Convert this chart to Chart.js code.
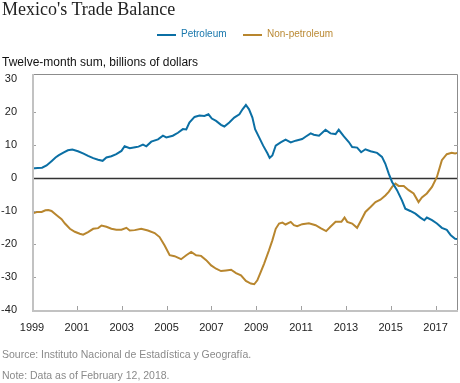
<!DOCTYPE html>
<html><head><meta charset="utf-8">
<script src="https://cdn.jsdelivr.net/npm/chart.js@4/dist/chart.umd.min.js"></script>
<style>
html,body{margin:0;padding:0;background:#fff}
body{width:460px;height:383px;overflow:hidden;position:relative;font-family:"Liberation Sans",Arial,sans-serif}
#wrap{position:absolute;left:0;top:0;width:460px;height:383px}
.t{position:absolute;white-space:nowrap;line-height:1}
#title{left:2px;top:0px;font-family:"Liberation Serif",serif;font-size:18px;color:#222}
#sub{left:2px;top:56px;font-size:12px;color:#111}
#src{left:2px;top:349px;font-size:10.5px;color:#8a8a8a}
#note{left:2px;top:370px;font-size:10.5px;color:#8a8a8a}
.lg{position:absolute;height:2px;width:19px;top:34px}
.lt{position:absolute;top:29px;font-size:10px;white-space:nowrap;line-height:1}
</style></head>
<body>
<div id="wrap"><canvas id="c" width="460" height="383"></canvas></div>
<div class="t" id="title">Mexico's Trade Balance</div>
<div class="lg" style="left:157px;background:#0b6fa4"></div>
<div class="lt" style="left:181px;color:#1a78ad">Petroleum</div>
<div class="lg" style="left:243px;background:#b8862e"></div>
<div class="lt" style="left:267px;color:#bb8a35">Non-petroleum</div>
<div class="t" id="sub">Twelve-month sum, billions of dollars</div>
<div class="t" id="src">Source: Instituto Nacional de Estadística y Geografía.</div>
<div class="t" id="note">Note: Data as of February 12, 2018.</div>
<script>
const petroleumYears = [1999.0,1999.25,1999.45,1999.65,1999.87,2000.05,2000.2,2000.4,2000.6,2000.8,2001.05,2001.3,2001.5,2001.73,2001.95,2002.15,2002.32,2002.54,2002.76,2002.99,2003.13,2003.36,2003.6,2003.75,2003.95,2004.1,2004.32,2004.62,2004.84,2004.99,2005.28,2005.51,2005.73,2005.88,2006.02,2006.25,2006.47,2006.69,2006.87,2007.02,2007.21,2007.43,2007.58,2007.8,2008.02,2008.25,2008.39,2008.54,2008.68,2008.83,2008.95,2009.13,2009.31,2009.5,2009.6,2009.72,2009.87,2010.09,2010.31,2010.54,2010.76,2011.05,2011.2,2011.43,2011.57,2011.8,2012.09,2012.31,2012.54,2012.68,2012.91,2013.13,2013.28,2013.5,2013.68,2013.87,2014.1,2014.39,2014.61,2014.76,2014.91,2015.06,2015.28,2015.5,2015.65,2015.87,2016.1,2016.32,2016.5,2016.61,2016.84,2017.06,2017.28,2017.5,2017.68,2017.87,2017.98];
const petroleumValues = [2.9,3.0,3.1,3.8,5.1,6.2,6.9,7.7,8.4,8.6,8.1,7.4,6.7,6.0,5.5,5.2,6.2,6.6,7.2,8.2,9.6,9.0,9.3,9.5,10.1,9.6,11.0,11.7,12.8,12.3,12.8,13.7,14.8,14.7,16.8,18.5,18.9,18.8,19.3,18.0,17.3,16.1,15.6,16.8,18.3,19.3,20.8,22.1,20.8,18.3,14.8,12.3,9.8,7.5,6.1,6.8,9.8,10.8,11.6,10.8,11.3,11.8,12.5,13.5,13.1,12.8,14.6,13.5,13.3,14.6,12.6,10.9,9.4,9.2,7.8,8.7,8.1,7.6,6.4,4.3,1.3,-1.2,-3.7,-6.8,-9.3,-10.0,-10.8,-12.0,-12.8,-12.0,-12.8,-13.8,-15.1,-15.7,-17.4,-18.4,-18.5];
const nonPetroleumYears = [1999.0,1999.21,1999.43,1999.6,1999.73,1999.87,2000.1,2000.32,2000.47,2000.69,2000.91,2001.13,2001.28,2001.5,2001.73,2001.95,2002.1,2002.32,2002.54,2002.76,2002.99,2003.21,2003.36,2003.58,2003.87,2004.17,2004.47,2004.69,2004.91,2005.14,2005.36,2005.65,2005.88,2006.1,2006.32,2006.54,2006.77,2006.99,2007.21,2007.43,2007.65,2007.88,2008.1,2008.32,2008.54,2008.76,2008.91,2009.05,2009.2,2009.35,2009.57,2009.72,2009.87,2010.02,2010.17,2010.31,2010.54,2010.68,2010.83,2011.05,2011.35,2011.65,2011.87,2012.12,2012.31,2012.54,2012.8,2012.94,2013.06,2013.28,2013.5,2013.68,2013.87,2014.1,2014.32,2014.54,2014.76,2014.91,2015.06,2015.21,2015.35,2015.58,2015.8,2016.02,2016.24,2016.39,2016.61,2016.84,2017.06,2017.28,2017.5,2017.72,2017.87,2017.98];
const nonPetroleumValues = [-10.8,-10.3,-10.3,-9.8,-9.7,-10.0,-11.3,-12.5,-13.8,-15.4,-16.3,-16.9,-17.2,-16.4,-15.4,-15.2,-14.4,-14.8,-15.4,-15.7,-15.7,-15.1,-15.9,-15.8,-15.4,-15.9,-16.7,-17.9,-20.4,-23.4,-23.7,-24.6,-23.4,-22.4,-23.4,-23.6,-24.9,-26.5,-27.5,-28.2,-28.0,-27.8,-28.8,-29.5,-31.2,-32.0,-32.2,-31.0,-28.5,-26.0,-21.9,-18.9,-15.4,-13.8,-13.5,-14.1,-13.3,-14.3,-14.6,-14.0,-13.7,-14.3,-15.2,-16.1,-14.8,-13.3,-13.3,-12.0,-13.3,-13.8,-15.1,-12.8,-10.3,-8.8,-7.3,-6.6,-5.3,-4.2,-2.7,-1.7,-2.4,-2.4,-3.7,-4.7,-7.3,-5.9,-4.7,-2.7,0.3,5.4,7.2,7.6,7.4,7.6];
const xTickLabels = [1999,2001,2003,2005,2007,2009,2011,2013,2015,2017];
const yTickValues = [-40,-30,-20,-10,0,10,20,30];
const seriesNames = ['Petroleum','Non-petroleum'];

function pts(xs, ys){ return xs.map((x,i)=>({x:x,y:ys[i]})); }

const framePlugin = {
  id:'frame',
  beforeDatasetsDraw(chart){
    const {ctx, chartArea:a, scales:{x,y}} = chart;
    ctx.save();
    // zero line
    const y0 = Math.round(y.getPixelForValue(0))+0.5;
    ctx.strokeStyle='#333'; ctx.lineWidth=1.3;
    ctx.beginPath(); ctx.moveTo(a.left,y0); ctx.lineTo(a.right,y0); ctx.stroke();
    ctx.restore();
  },
  afterDatasetsDraw(chart){
    const {ctx, chartArea:a, scales:{x,y}} = chart;
    ctx.save();
    // top & right border
    ctx.strokeStyle='#8c8c8c'; ctx.lineWidth=1;
    ctx.beginPath(); ctx.moveTo(a.left, a.top+0.5); ctx.lineTo(a.right-0.5, a.top+0.5); ctx.lineTo(a.right-0.5, a.bottom); ctx.stroke();
    // inner y ticks
    ctx.strokeStyle='#a0a0a0';
    yTickValues.forEach(v=>{
      if(v===0||v===-40||v===30) return;
      const py = Math.round(y.getPixelForValue(v))+0.5;
      ctx.beginPath(); ctx.moveTo(a.left,py); ctx.lineTo(a.left+4,py); ctx.stroke();
      ctx.beginPath(); ctx.moveTo(a.right-4,py); ctx.lineTo(a.right,py); ctx.stroke();
    });
    // inner x ticks
    xTickLabels.forEach(v=>{
      if(v===1999) return;
      const px = Math.round(x.getPixelForValue(v))+0.5;
      ctx.beginPath(); ctx.moveTo(px,a.bottom); ctx.lineTo(px,a.bottom-4); ctx.stroke();
    });
    // left & bottom axis
    ctx.strokeStyle='#c2c2c2'; ctx.lineWidth=2;
    ctx.beginPath(); ctx.moveTo(a.left+1, a.top); ctx.lineTo(a.left+1, a.bottom+1); ctx.lineTo(a.right, a.bottom+1); ctx.stroke();
    ctx.restore();
  }
};

new Chart(document.getElementById('c'), {
  type:'line',
  data:{
    datasets:[
      {label:seriesNames[0], data:pts(petroleumYears,petroleumValues), borderColor:'#0b6fa4', borderWidth:2, pointRadius:0, tension:0, fill:false},
      {label:seriesNames[1], data:pts(nonPetroleumYears,nonPetroleumValues), borderColor:'#b8862e', borderWidth:2, pointRadius:0, tension:0, fill:false}
    ]
  },
  options:{
    responsive:false, animation:false, devicePixelRatio:1,
    layout:{padding:{top:74,right:2,bottom:0,left:0}},
    plugins:{legend:{display:false}, tooltip:{enabled:false}, title:{display:false}},
    scales:{
      x:{type:'linear', min:1999, max:2018,
        afterFit(s){ s.height = 73; },
        afterBuildTicks(s){ s.ticks = xTickLabels.map(v=>({value:v})); },
        grid:{display:false, drawTicks:false}, border:{display:false},
        ticks:{autoSkip:false, maxRotation:0, padding:11, color:'#222', font:{family:'"Liberation Sans", Arial, sans-serif', size:11}, callback:v=>String(v)}
      },
      y:{type:'linear', min:-40, max:31.5,
        afterFit(s){ s.width = 32; },
        afterBuildTicks(s){ s.ticks = yTickValues.map(v=>({value:v})); },
        grid:{display:false, drawTicks:false}, border:{display:false},
        ticks:{autoSkip:false, padding:15, color:'#222', font:{family:'"Liberation Sans", Arial, sans-serif', size:11}, callback:v=>String(v)}
      }
    }
  },
  plugins:[framePlugin]
});
</script>
</body></html>
